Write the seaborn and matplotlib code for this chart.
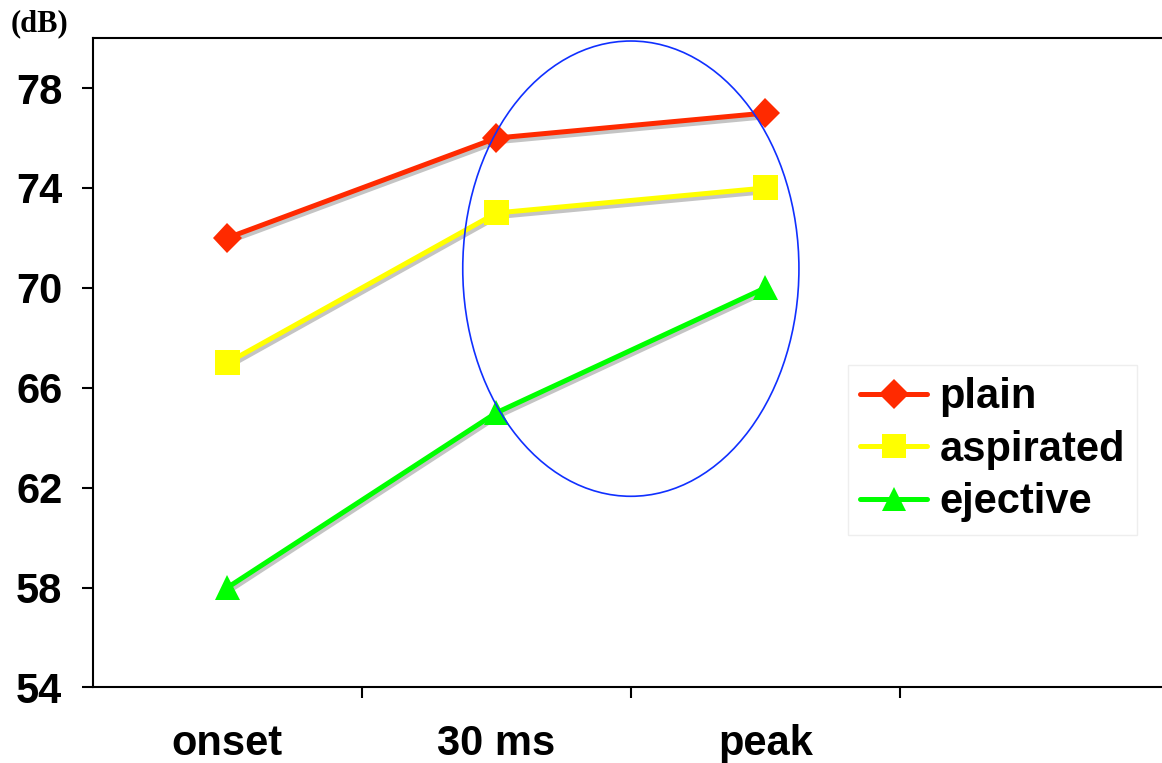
import matplotlib
matplotlib.use("Agg")
import matplotlib.pyplot as plt
import matplotlib.patheffects as pe
from matplotlib.patches import Ellipse
from matplotlib.ticker import FixedLocator, NullFormatter
import seaborn as sns
import pandas as pd

# data
stages = ["onset", "30 ms", "peak"]
plain = [72, 76, 77]
aspirated = [67, 73, 74]
ejective = [58, 65, 70]
y_ticks = [54, 58, 62, 66, 70, 74, 78]

series_names = ["plain", "aspirated", "ejective"]
colors = {"plain": "#ff2a00", "aspirated": "#ffff00", "ejective": "#00ff00"}
markers = {"plain": "D", "aspirated": "s", "ejective": "^"}

rows = []
for name, vals in zip(series_names, [plain, aspirated, ejective]):
    for stage, v in zip(stages, vals):
        rows.append({"stage": stage, "dB": v, "series": name})
df = pd.DataFrame(rows)

sns.set_style("white")
plt.rcParams["font.family"] = ["Liberation Sans", "DejaVu Sans"]
plt.rcParams["font.weight"] = "bold"
plt.rcParams["text.color"] = "black"
plt.rcParams["xtick.color"] = "black"
plt.rcParams["ytick.color"] = "black"
plt.rcParams["xtick.labelcolor"] = "black"
plt.rcParams["ytick.labelcolor"] = "black"

fig = plt.figure(figsize=(11.62, 7.63), dpi=100)
ax = fig.add_axes([0.080, 0.099, 0.920, 0.851])

sns.lineplot(
    data=df, x="stage", y="dB", hue="series", style="series",
    hue_order=series_names, style_order=series_names,
    palette=colors, markers=markers, dashes=False,
    linewidth=3.6, markersize=18, markeredgewidth=0,
    sort=False, ax=ax,
)

shadow = [pe.SimpleLineShadow(offset=(0.8, -2.6), shadow_color="#c4c4c4", alpha=1.0),
          pe.Normal()]
for ln in ax.lines:
    ln.set_path_effects(shadow)
    if ln.get_marker() == "D":
        ln.set_markersize(15)

# circled region
ax.add_patch(Ellipse((1.5, 70.77), 1.25, 18.23, fill=False,
                     edgecolor="#1030ff", linewidth=1.2, zorder=5))

ax.set_xlim(-0.5, 3.475)
ax.set_ylim(54, 80)
ax.set_yticks(y_ticks)
ax.set_yticklabels([str(t) for t in y_ticks], fontsize=30, fontweight="bold")

ax.xaxis.set_major_locator(FixedLocator([0.5, 1.5, 2.5]))
ax.xaxis.set_major_formatter(NullFormatter())
ax.xaxis.set_minor_locator(FixedLocator([0, 1, 2]))
ax.set_xticklabels(stages, minor=True, fontsize=30, fontweight="bold")
ax.tick_params(axis="x", which="major", direction="out", length=8, width=1.5,
               bottom=True, color="black")
ax.tick_params(axis="x", which="minor", length=0, pad=26, bottom=True)
ax.tick_params(axis="y", direction="out", length=8, width=1.5, pad=14,
               left=True, color="black")

ax.set_xlabel("")
ax.set_ylabel("")
for side in ["left", "bottom", "top"]:
    ax.spines[side].set_color("black")
    ax.spines[side].set_linewidth(1.5)
ax.spines["right"].set_visible(False)

handles, labels = ax.get_legend_handles_labels()
leg = ax.legend(handles, labels, loc="upper left", bbox_to_anchor=(0.706, 0.497),
                prop={"family": "Liberation Sans", "weight": "bold", "size": 30},
                handlelength=1.6, handletextpad=0.3, labelspacing=0.3,
                borderpad=0.3, borderaxespad=0, fancybox=False,
                framealpha=1, edgecolor="#eeeeee", facecolor="white")
leg.get_frame().set_linewidth(1)
for h in leg.legend_handles:
    h.set_path_effects([])
    h.set_markersize(17 if h.get_marker() != "D" else 15)

fig.text(0.009, 0.950, "(dB)", fontsize=22, fontweight="bold",
         family=["Liberation Serif", "DejaVu Serif"], ha="left", va="bottom")

fig.savefig("out.png", dpi=100)
